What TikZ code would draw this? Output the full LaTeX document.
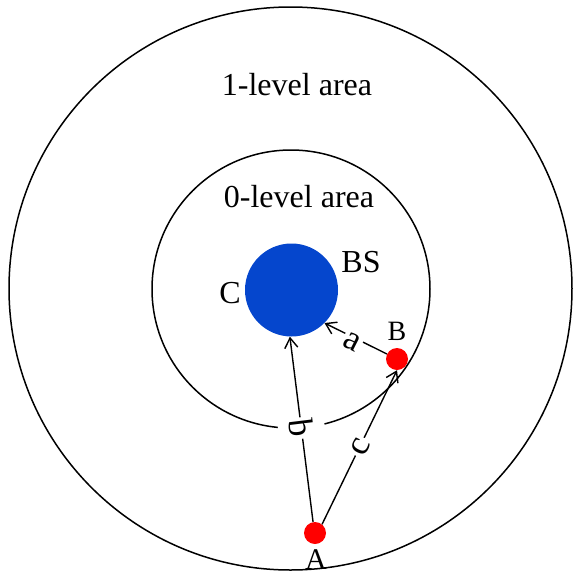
\documentclass[tikz,border=0pt]{standalone}
\usepackage{fontspec}
\setmainfont{Liberation Serif}
\usetikzlibrary{arrows.meta}
\definecolor{bsblue}{RGB}{5,70,205}
\definecolor{devred}{RGB}{255,0,0}
\begin{document}
\begin{tikzpicture}[x=1pt,y=-1pt,
  ring/.style={draw, circle, line width=1.5pt, inner sep=0pt},
  dev/.style={circle, fill=devred, minimum size=22pt, inner sep=0pt},
  txt/.style={font=\fontsize{32}{36}\selectfont, inner sep=0pt, anchor=base},
  lbl/.style={font=\fontsize{35}{38}\selectfont, fill=white, inner xsep=2pt, inner ysep=3pt},
  link/.style={line width=1.4pt, -{Straight Barb[length=10pt,width=13pt,line width=1.4pt]}}
]
\useasboundingbox (0,0) rectangle (573,574);
\node[ring, minimum size=563pt] (outer) at (290.5,288.5) {};
\node[ring, minimum size=278pt] (inner) at (291,289) {};
\node[circle, fill=bsblue, minimum size=93pt, inner sep=0pt] (BS) at (291.5,290) {};
\node[dev] (A) at (315,533) {};
\node[dev] (B) at (397,359) {};

\node[txt] (t1) at (297,95) {1-level area};
\node[txt] (t0) at (299,207) {0-level area};
\node[txt] (tBS) at (361,272) {BS};
\node[txt] (tC) at (230,303) {C};
\node[txt, font=\fontsize{28}{32}\selectfont] (tB) at (397,340) {B};
\node[txt, font=\fontsize{30}{34}\selectfont] (tA) at (316,569) {A};

\draw[link] (A.100) -- (BS.-92);
\draw[link] (A.51) -- (B.south);
\draw[link] (B) -- (BS.-45);

\node[lbl, rotate=-83, inner ysep=11pt] (lb) at (301.5,428) {b};
\node[lbl, rotate=64] (lc) at (360.5,447) {c};
\node[lbl, rotate=-27] (la) at (352,342) {a};
\end{tikzpicture}
\end{document}
